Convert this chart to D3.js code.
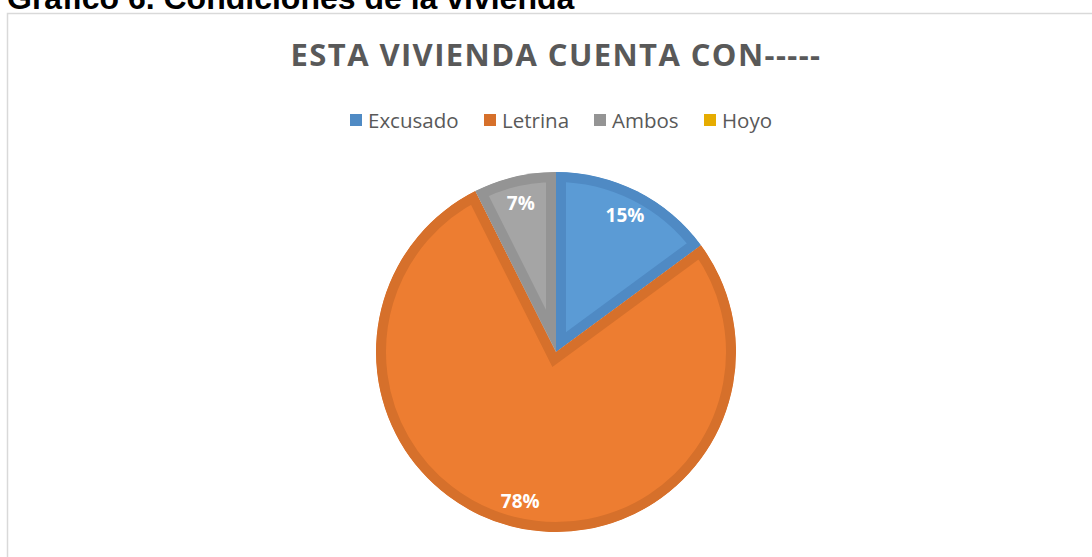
<!DOCTYPE html>
<html><head><meta charset="utf-8">
<script src="https://cdn.jsdelivr.net/npm/d3@7"></script>
<style>
html,body{margin:0;padding:0;background:#fff;overflow:hidden;}
</style></head>
<body>
<svg id="c" width="1092" height="557"></svg>
<script>
const categories = ["Excusado","Letrina","Ambos","Hoyo"];
const values = [14.9, 77.7, 7.4, 0];
const fillColors = ["#5B9BD5","#ED7D31","#A5A5A5","#FFC000"];
const edgeColors = ["#4F8AC4","#D6702B","#949494","#E6AC00"];
const chartTitle = "ESTA VIVIENDA CUENTA CON-----";
const caption = "Gráfico 6. Condiciones de la vivienda";

const svg = d3.select("#c");
const W = 1092, H = 557;

// caption (cut off at top in the reference)
svg.append("text").attr("x", 7).attr("y", 9)
  .attr("font-family", "Liberation Sans, Arial, sans-serif")
  .attr("font-weight", "bold").attr("font-size", 32).attr("fill", "#000")
  .text(caption);

// frame
svg.append("path").attr("d", `M7.5,${H} V13.5 H${W}`)
  .attr("fill", "none").attr("stroke", "#D9D9D9").attr("stroke-width", 1.5);

// title
svg.append("text").attr("x", 556).attr("y", 66).attr("text-anchor", "middle")
  .attr("font-family", "Open Sans, sans-serif").attr("font-weight", "bold")
  .attr("font-size", 31).attr("letter-spacing", 1.4).attr("fill", "#595959").text(chartTitle);

// legend
const legendX = d3.scaleOrdinal().domain(categories).range([350, 484, 594, 704]);
const lg = svg.append("g");
categories.forEach((c, i) => {
  const x = legendX(c);
  lg.append("rect").attr("x", x).attr("y", 114).attr("width", 12).attr("height", 12)
    .attr("fill", edgeColors[i]);
  lg.append("text").attr("x", x + 18).attr("y", 127.5)
    .attr("font-family", "Open Sans, sans-serif").attr("font-size", 20.5)
    .attr("fill", "#595959").text(c);
});

// pie
const cx = 556, cy = 352, R = 180;
const pie = d3.pie().sort(null).value(d => d)(values);
const arc = d3.arc().innerRadius(0).outerRadius(R);
const g = svg.append("g").attr("transform", `translate(${cx},${cy})`);
const defs = svg.append("defs");
pie.forEach((p, i) => {
  if (p.endAngle - p.startAngle <= 0) return;
  const id = "clip" + i;
  defs.append("clipPath").attr("id", id).append("path").attr("d", arc(p));
  const sg = g.append("g").attr("clip-path", `url(#${id})`);
  sg.append("path").attr("d", arc(p)).attr("fill", fillColors[i])
    .attr("stroke", edgeColors[i]).attr("stroke-width", 20)
    .attr("stroke-linejoin", "miter");
});

// labels
const labelArc = d3.arc().innerRadius(R * 0.85).outerRadius(R * 0.85);
pie.forEach((p, i) => {
  if (p.value <= 0) return;
  const [x, y] = labelArc.centroid(p);
  g.append("text").attr("x", x).attr("y", y).attr("dy", "0.36em")
    .attr("text-anchor", "middle").attr("font-family", "Open Sans, sans-serif")
    .attr("font-weight", "bold").attr("font-size", 19).attr("fill", "#fff")
    .text(Math.round(p.value) + "%");
});
</script>
</body></html>
